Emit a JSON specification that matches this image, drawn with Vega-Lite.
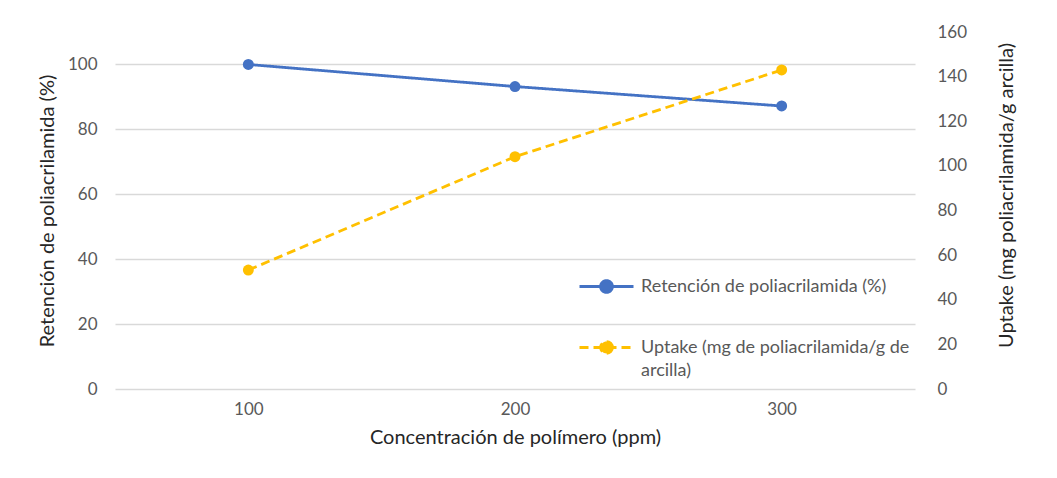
{
  "$schema": "https://vega.github.io/schema/vega-lite/v6.json",
  "autosize": {"type": "none"},
  "width": 800,
  "height": 357,
  "padding": {"left": 115, "top": 32, "right": 142, "bottom": 89},
  "background": "white",
  "config": {
    "font": "Lato",
    "view": {"stroke": null},
    "axis": {"labelFont": "Lato", "titleFont": "Lato", "labelFontSize": 17, "titleFontSize": 20, "labelColor": "#595959", "titleColor": "#262626", "titleFontWeight": "normal", "ticks": false, "domain": false}
  },
  "data": {
    "values": [
      {"ppm": "100", "serie": "Retención de poliacrilamida (%)", "valor": 100},
      {"ppm": "200", "serie": "Retención de poliacrilamida (%)", "valor": 93.2},
      {"ppm": "300", "serie": "Retención de poliacrilamida (%)", "valor": 87.2},
      {"ppm": "100", "serie": "Uptake (mg de poliacrilamida/g de arcilla)", "valor": 53.3},
      {"ppm": "200", "serie": "Uptake (mg de poliacrilamida/g de arcilla)", "valor": 104.1},
      {"ppm": "300", "serie": "Uptake (mg de poliacrilamida/g de arcilla)", "valor": 143.0}
    ]
  },
  "encoding": {
    "x": {
      "field": "ppm", "type": "ordinal",
      "scale": {"type": "point", "padding": 0.5},
      "axis": {"title": "Concentración de polímero (ppm)", "labelAngle": 0, "labelPadding": 12, "titlePadding": 10, "grid": false}
    },
    "color": {
      "field": "serie", "type": "nominal",
      "scale": {"domain": ["Retención de poliacrilamida (%)", "Uptake (mg de poliacrilamida/g de arcilla)"], "range": ["#4472C4", "#FFC000"]},
      "legend": {
        "title": null, "orient": "none", "legendX": 463, "legendY": 226,
        "symbolType": "M-1,0L1,0M0.22,0A0.22,0.22,0,1,1,-0.22,0A0.22,0.22,0,1,1,0.22,0",
        "symbolSize": 2916, "symbolStrokeWidth": 2.8,
        "labelFont": "Lato", "labelFontSize": 18, "labelColor": "#595959", "labelLimit": 400,
        "rowPadding": 20, "labelOffset": 6,
        "labelExpr": "datum.label == 'Uptake (mg de poliacrilamida/g de arcilla)' ? ['Uptake (mg de poliacrilamida/g de', 'arcilla)'] : datum.label",
        "encode": {"symbols": {"update": {"fill": {"scale": "color", "field": "value"}}}, "labels": {"update": {"lineHeight": {"value": 23}}}}
      }
    },
    "strokeDash": {
      "field": "serie", "type": "nominal",
      "scale": {"domain": ["Retención de poliacrilamida (%)", "Uptake (mg de poliacrilamida/g de arcilla)"], "range": [[1, 0], [9, 5]]},
      "legend": {
        "title": null, "orient": "none", "legendX": 463, "legendY": 226,
        "symbolType": "M-1,0L1,0M0.22,0A0.22,0.22,0,1,1,-0.22,0A0.22,0.22,0,1,1,0.22,0",
        "symbolSize": 2916, "symbolStrokeWidth": 2.8,
        "labelFont": "Lato", "labelFontSize": 18, "labelColor": "#595959", "labelLimit": 400,
        "rowPadding": 20, "labelOffset": 6,
        "labelExpr": "datum.label == 'Uptake (mg de poliacrilamida/g de arcilla)' ? ['Uptake (mg de poliacrilamida/g de', 'arcilla)'] : datum.label",
        "encode": {"symbols": {"update": {"fill": {"scale": "color", "field": "value"}}}, "labels": {"update": {"lineHeight": {"value": 23}}}}
      }
    }
  },
  "layer": [
    {
      "transform": [{"filter": "datum.serie == 'Retención de poliacrilamida (%)'"}],
      "mark": {"type": "line", "strokeWidth": 2.8, "point": {"filled": true, "size": 120}},
      "encoding": {
        "y": {
          "field": "valor", "type": "quantitative",
          "scale": {"domain": [0, 110], "nice": false},
          "axis": {"title": "Retención de poliacrilamida (%)", "values": [0, 20, 40, 60, 80, 100], "grid": true, "gridColor": "#D9D9D9", "gridWidth": 1.3, "labelPadding": 18, "titlePadding": 10, "orient": "left"}
        }
      }
    },
    {
      "transform": [{"filter": "datum.serie != 'Retención de poliacrilamida (%)'"}],
      "mark": {"type": "line", "strokeWidth": 2.8, "point": {"filled": true, "size": 120}},
      "encoding": {
        "y": {
          "field": "valor", "type": "quantitative",
          "scale": {"domain": [0, 160], "nice": false},
          "axis": {"title": "Uptake (mg poliacrilamida/g arcilla)", "values": [0, 20, 40, 60, 80, 100, 120, 140, 160], "grid": false, "labelPadding": 22, "titlePadding": 50, "titleY": 163, "orient": "right", "titleAngle": -90, "labelAlign": "left"}
        }
      }
    }
  ],
  "resolve": {"scale": {"y": "independent"}}
}
